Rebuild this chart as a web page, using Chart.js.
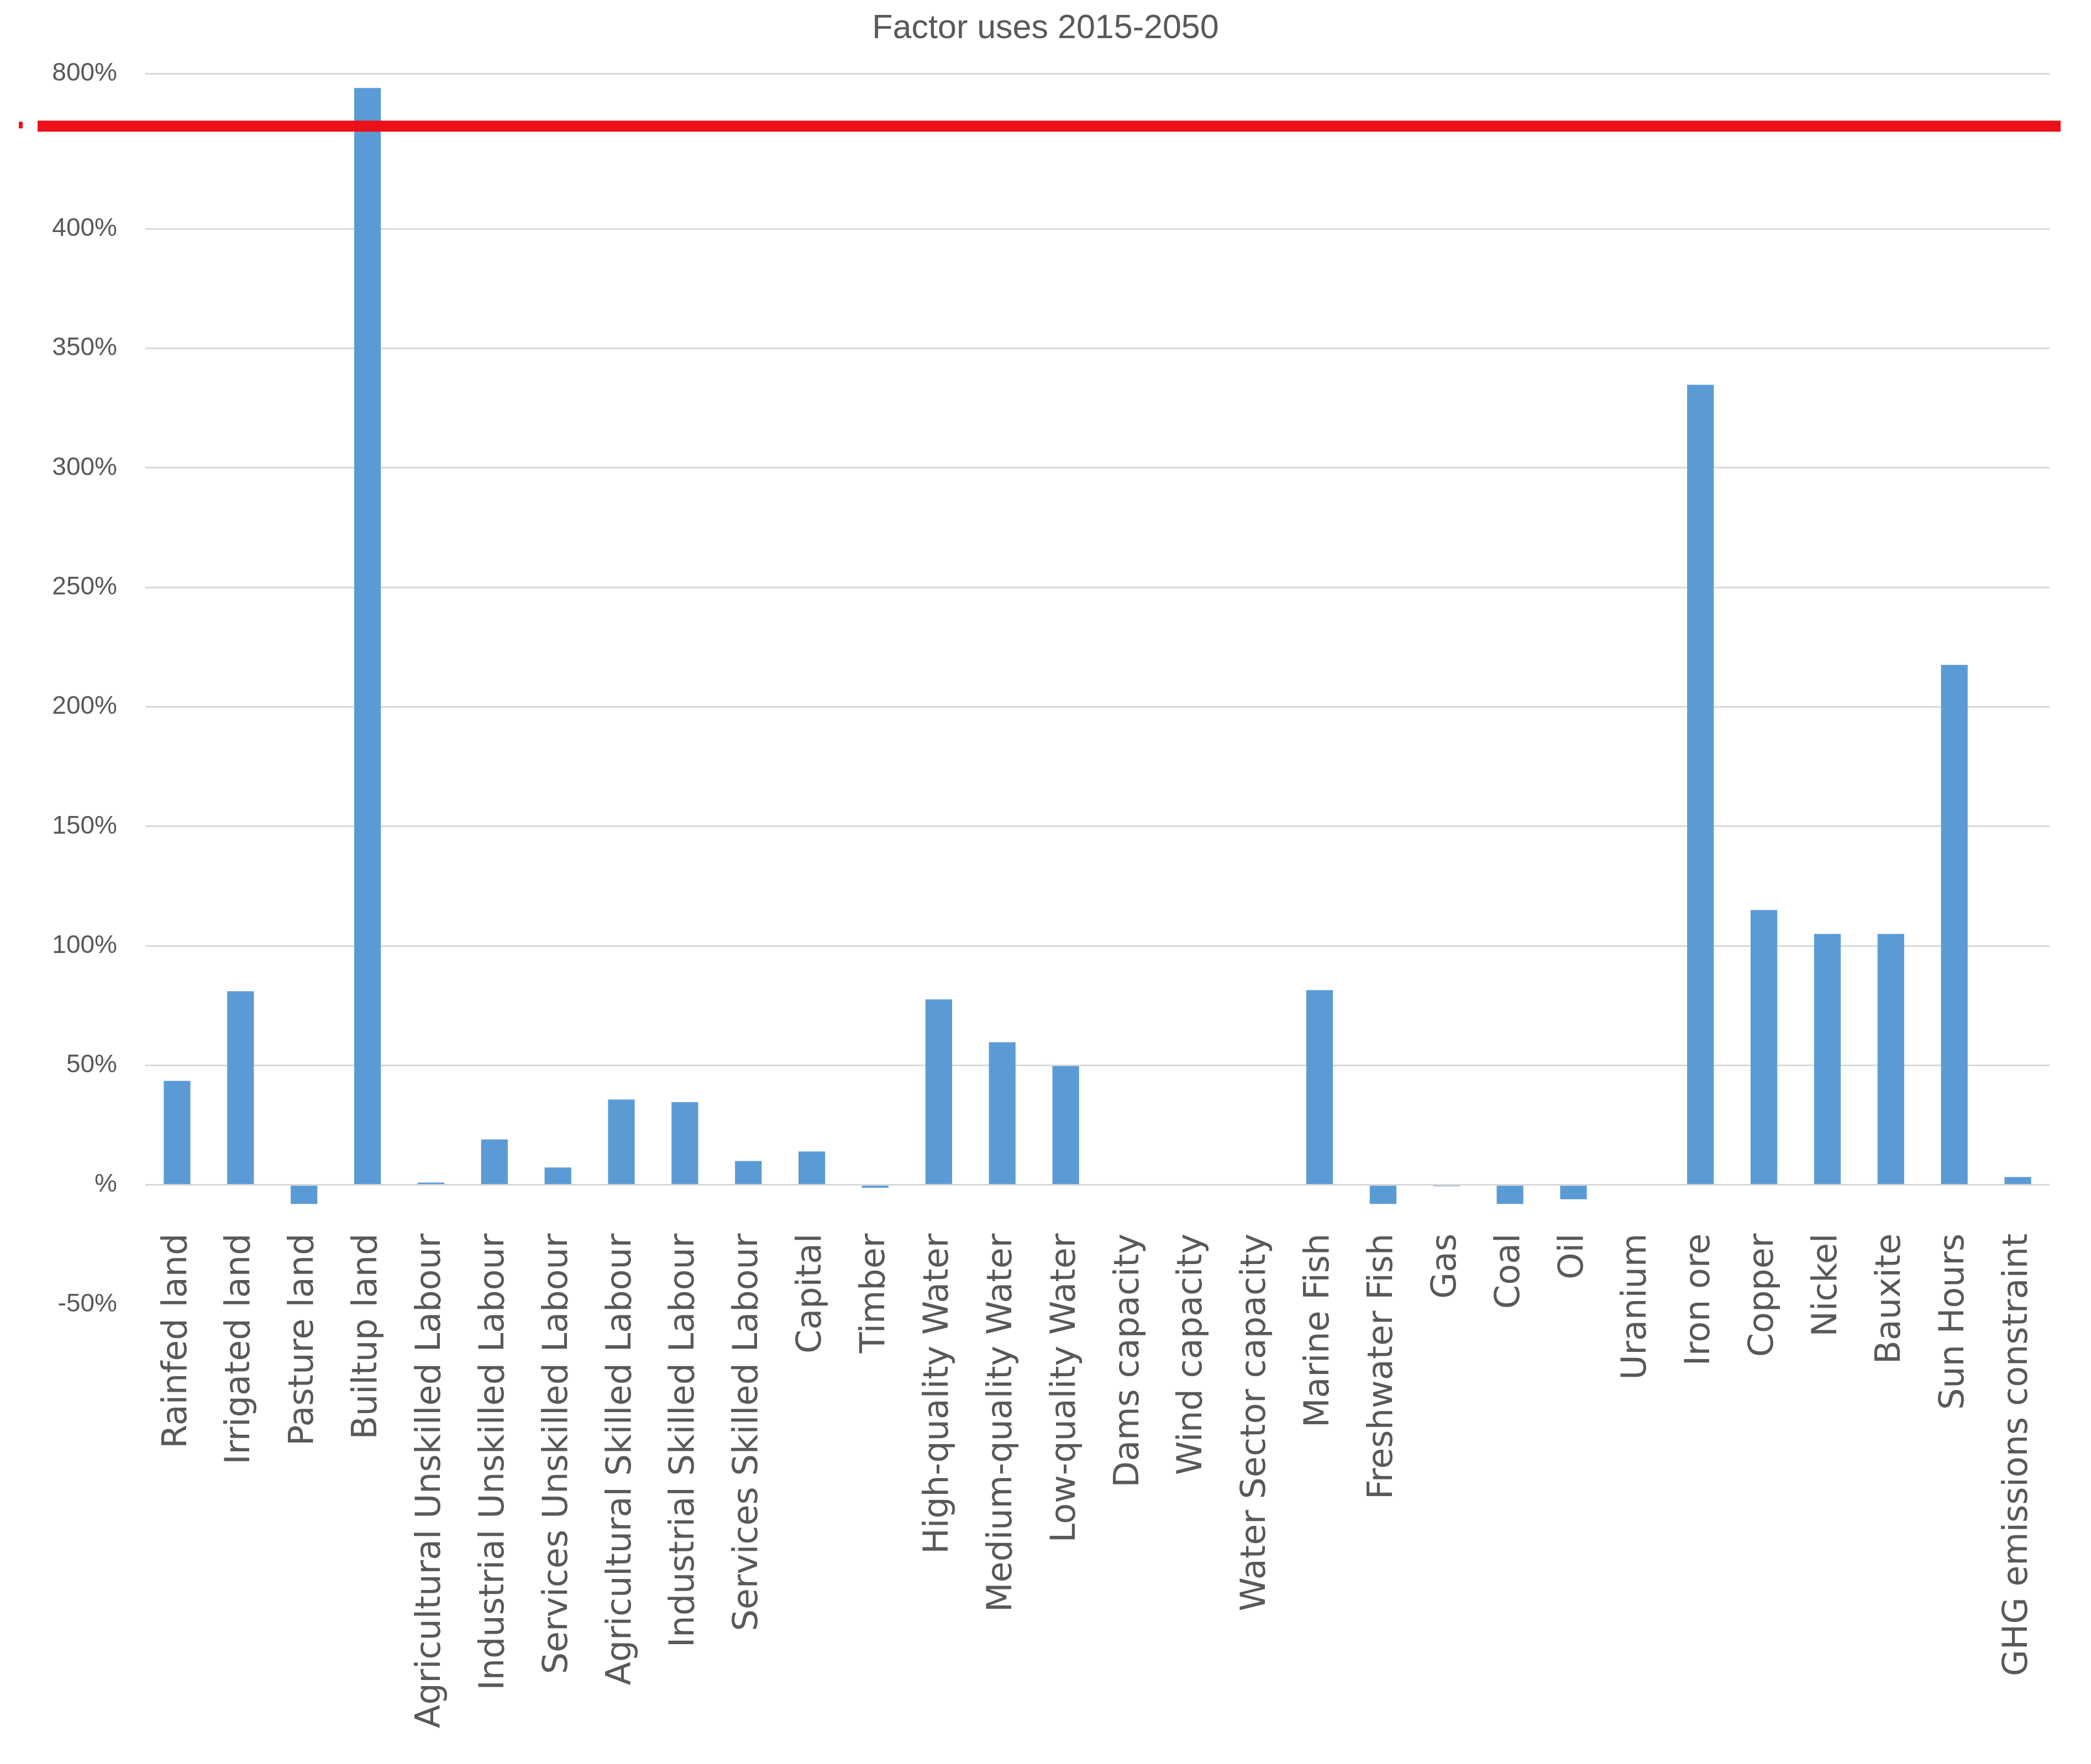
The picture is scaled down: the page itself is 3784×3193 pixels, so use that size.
<!DOCTYPE html>
<html>
<head>
<meta charset="utf-8">
<title>Factor uses 2015-2050</title>
<script src="https://cdn.jsdelivr.net/npm/chart.js@4.4.1/dist/chart.umd.min.js"></script>
<style>
  html, body { margin: 0; padding: 0; background: #fff; }
  #wrap { width: 3784px; height: 3193px; }
</style>
</head>
<body>
<div id="wrap"><canvas id="factorChart" width="3784" height="3193"></canvas></div>
<script>
// Data (percent change 2015-2050)
const factors = [
  "Rainfed land", "Irrigated land", "Pasture land", "Builtup land",
  "Agricultural Unskilled Labour", "Industrial Unskilled Labour", "Services Unskilled Labour",
  "Agricultural Skilled Labour", "Industrial Skilled Labour", "Services Skilled Labour",
  "Capital", "Timber", "High-quality Water", "Medium-quality Water", "Low-quality Water",
  "Dams capacity", "Wind capacity", "Water Sector capacity", "Marine Fish", "Freshwater Fish",
  "Gas", "Coal", "Oil", "Uranium", "Iron ore", "Copper", "Nickel", "Bauxite", "Sun Hours",
  "GHG emissions constraint"
]
const changePct = [
  43.5, 81, -8, 794,
  1, 19, 7.3,
  35.7, 34.6, 10,
  14, -1.2, 77.6, 59.7, 49.7,
  0, 0, 0, 81.5, -8,
  -0.6, -8, -6, 0, 334.8, 115, 105, 105, 217.6,
  3.3
]
const yTickValues = [-50, 0, 50, 100, 150, 200, 250, 300, 350, 400, 800]
const yTickLabels = ["-50%", "%", "50%", "100%", "150%", "200%", "250%", "300%", "350%", "400%", "800%"]

// the cut in the value axis (hidden under the red line)
const gapLow = 443
const gapHigh = 778

const textGrey = "#595959"
const gridGrey = "#d9d9d9"
const barBlue = "#5b9bd5"

/**
 * Linear scale with a section cut out between gapLow and gapHigh
 */
class BrokenScale extends Chart.LinearScale {
  squeeze(v) {
    if (v <= gapLow) return v
    if (v >= gapHigh) return v - (gapHigh - gapLow)
    return gapLow
  }
  getPixelForValue(value) {
    if (value === null || value === undefined) return NaN
    const lo = this.squeeze(this.min)
    const hi = this.squeeze(this.max)
    return this.getPixelForDecimal((this.squeeze(value) - lo) / (hi - lo))
  }
  getValueForPixel(pixel) {
    const lo = this.squeeze(this.min)
    const hi = this.squeeze(this.max)
    const u = lo + this.getDecimalForPixel(pixel) * (hi - lo)
    return u <= gapLow ? u : u + (gapHigh - gapLow)
  }
}
BrokenScale.id = "broken"
BrokenScale.defaults = Chart.LinearScale.defaults
Chart.register(BrokenScale)

// Red marker line over the axis break
const breakLine = {
  id: "breakLine",
  afterDatasetsDraw(chart) {
    const ctx = chart.ctx
    const y = chart.scales.y.getPixelForValue(gapLow)
    ctx.save()
    ctx.fillStyle = "#ec1019"
    ctx.fillRect(68, y - 10, 3661, 20)
    ctx.fillRect(34, y - 8, 7, 12)
    ctx.restore()
  }
}

document.addEventListener("DOMContentLoaded", () => {
  const ctx = document.getElementById("factorChart")

  new Chart(ctx, {
    type: "bar",
    data: {
      labels: factors,
      datasets: [
        {
          label: "Factor uses",
          data: changePct,
          backgroundColor: barBlue,
          borderWidth: 0,
          barPercentage: 0.42,
          categoryPercentage: 1,
        },
      ],
    },
    options: {
      responsive: false,
      animation: false,
      devicePixelRatio: 1,
      layout: {
        padding: { left: 0, right: 0, top: 0, bottom: 832 },
      },
      plugins: {
        legend: { display: false },
        tooltip: { enabled: false },
        title: {
          display: true,
          text: "Factor uses 2015-2050",
          color: textGrey,
          font: { family: "'Liberation Sans', Arial, sans-serif", size: 61, weight: "normal", lineHeight: 1.2 },
          padding: { top: 16, bottom: 44 },
        },
      },
      scales: {
        x: {
          position: { y: 0 },
          grid: { display: false },
          border: { display: false },
          afterFit: (scale) => {
            scale.paddingLeft = 0
            scale.paddingRight = 75
          },
          ticks: {
            autoSkip: false,
            minRotation: 90,
            maxRotation: 90,
            padding: 80,
            color: textGrey,
            font: { family: "'DejaVu Sans', Verdana, sans-serif", size: 62 },
          },
        },
        y: {
          type: "broken",
          min: -50,
          max: 800,
          border: { display: false },
          grid: {
            drawTicks: false,
            lineWidth: 3,
            color: (c) => (c.tick && c.tick.value === -50 ? "rgba(0,0,0,0)" : gridGrey),
          },
          afterBuildTicks: (scale) => {
            scale.ticks = yTickValues.map((v) => ({ value: v }))
          },
          afterFit: (scale) => {
            scale.width = 263
          },
          ticks: {
            padding: 51,
            color: textGrey,
            font: { family: "'Liberation Sans', Arial, sans-serif", size: 46 },
            callback: (value, i) => yTickLabels[i],
          },
        },
      },
    },
    plugins: [breakLine],
  })
})
</script>
</body>
</html>
